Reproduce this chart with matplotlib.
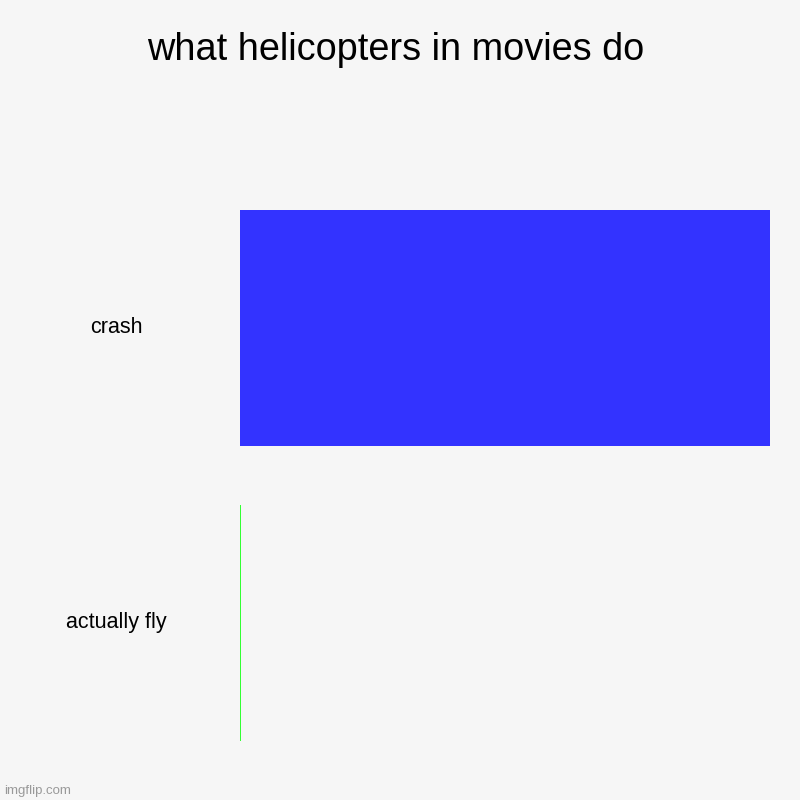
import matplotlib
matplotlib.use("Agg")
from matplotlib import pyplot as plt
from matplotlib import transforms

title = "what helicopters in movies do"
labels = ["crash", "actually fly"]
values = [100, 0.2]
colors = ["#3333ff", "#33ff33"]

bg = "#f6f6f6"
plt.rcParams["font.family"] = ["Liberation Sans", "DejaVu Sans"]

fig = plt.figure(figsize=(8, 8), dpi=100, facecolor=bg)
ax = fig.add_axes([0.3, 0.0375, 0.6625, 0.7375])
ax.set_facecolor(bg)

pos = list(range(len(labels)))
ax.barh(pos, values, height=0.8, color=colors)
ax.set_xlim(0, max(values))
ax.set_ylim(len(labels) - 0.5, -0.5)

# category labels, centred in the left margin
trans = transforms.blended_transform_factory(fig.transFigure, ax.transData)
for p, lab in zip(pos, labels):
    ax.text(0.146, p, lab, transform=trans, ha="center", va="center",
            fontsize=15.5, color="#000000")

ax.set_xticks([])
ax.set_yticks([])
for s in ax.spines.values():
    s.set_visible(False)

fig.text(0.494, 0.938, title, ha="center", va="center", fontsize=27.3)
fig.text(0.005, 0.011, "imgflip.com", ha="left", va="center",
         fontsize=9.5, color="#999999")

fig.savefig("out.png", dpi=100, facecolor=bg)
